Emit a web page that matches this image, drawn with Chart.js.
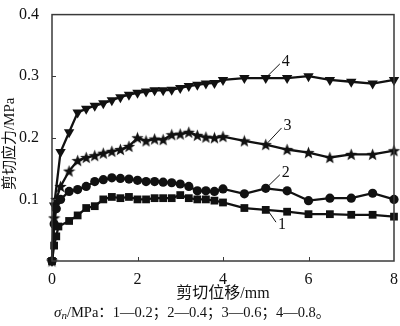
<!DOCTYPE html>
<html>
<head>
<meta charset="utf-8">
<script src="https://cdn.jsdelivr.net/npm/chart.js@4/dist/chart.umd.min.js"></script>
<style>
  html, body { margin: 0; padding: 0; background: #fff; }
  canvas { display: block; }
</style>
</head>
<body>
<canvas id="c" width="400" height="326"></canvas>
<script>
// Shear displacement (mm) and shear stress (MPa) for four normal stress levels
const xTicks = [0, 2, 4, 6, 8];
const yTicks = [0.1, 0.2, 0.3, 0.4];

const disp1   = [0, 0.05, 0.1, 0.15, 0.4, 0.6, 0.8, 1.0, 1.2, 1.4, 1.6, 1.8, 2.0, 2.2, 2.4, 2.6, 2.8, 3.0, 3.2, 3.4, 3.6, 3.8, 4.0, 4.5, 5.0, 5.5, 6.0, 6.5, 7.0, 7.5, 8.0];
const stress1 = [0, 0.025, 0.040, 0.056, 0.065, 0.074, 0.086, 0.089, 0.100, 0.104, 0.102, 0.104, 0.100, 0.100, 0.102, 0.102, 0.102, 0.107, 0.102, 0.100, 0.100, 0.098, 0.095, 0.086, 0.083, 0.080, 0.076, 0.076, 0.075, 0.075, 0.072];

const disp2   = [0, 0.05, 0.1, 0.2, 0.4, 0.6, 0.8, 1.0, 1.2, 1.4, 1.6, 1.8, 2.0, 2.2, 2.4, 2.6, 2.8, 3.0, 3.2, 3.4, 3.6, 3.8, 4.0, 4.5, 5.0, 5.5, 6.0, 6.5, 7.0, 7.5, 8.0];
const stress2 = [0, 0.060, 0.085, 0.100, 0.113, 0.116, 0.121, 0.129, 0.132, 0.135, 0.134, 0.133, 0.131, 0.129, 0.129, 0.128, 0.127, 0.125, 0.121, 0.114, 0.114, 0.113, 0.117, 0.109, 0.118, 0.114, 0.098, 0.102, 0.102, 0.110, 0.100];

const disp3   = [0, 0.05, 0.1, 0.2, 0.4, 0.6, 0.8, 1.0, 1.2, 1.4, 1.6, 1.8, 2.0, 2.2, 2.4, 2.6, 2.8, 3.0, 3.2, 3.4, 3.6, 3.8, 4.0, 4.5, 5.0, 5.5, 6.0, 6.5, 7.0, 7.5, 8.0];
const stress3 = [0, 0.070, 0.100, 0.121, 0.146, 0.163, 0.168, 0.171, 0.175, 0.178, 0.181, 0.186, 0.200, 0.195, 0.198, 0.197, 0.205, 0.206, 0.209, 0.204, 0.201, 0.200, 0.202, 0.195, 0.189, 0.181, 0.176, 0.168, 0.173, 0.173, 0.179];

const disp4   = [0, 0.05, 0.2, 0.4, 0.6, 0.8, 1.0, 1.2, 1.4, 1.6, 1.8, 2.0, 2.2, 2.4, 2.6, 2.8, 3.0, 3.2, 3.4, 3.6, 3.8, 4.0, 4.5, 5.0, 5.5, 6.0, 6.5, 7.0, 7.5, 8.0];
const stress4 = [0, 0.090, 0.177, 0.209, 0.241, 0.247, 0.252, 0.256, 0.261, 0.266, 0.270, 0.273, 0.275, 0.277, 0.277, 0.278, 0.281, 0.284, 0.286, 0.288, 0.289, 0.294, 0.297, 0.297, 0.297, 0.300, 0.294, 0.291, 0.288, 0.294];

const curveIds = ['1', '2', '3', '4'];
const normalStress = ['0.2', '0.4', '0.6', '0.8'];

// Callout leaders in data units: [from x, from y, to x, to y]
const callouts = [
  [5.02, 0.085, 5.24, 0.063],
  [5.02, 0.119, 5.33, 0.140],
  [5.02, 0.190, 5.37, 0.216],
  [5.01, 0.298, 5.33, 0.320]
];

const SERIF = "'Liberation Serif', 'Times New Roman', 'Noto Sans CJK SC', serif";
const INK = '#111';

function toPoints(xs, ys) {
  return xs.map((x, i) => ({ x: x, y: ys[i] }));
}

// Filled five-pointed star used as a marker
function makeStar(size) {
  const c = document.createElement('canvas');
  c.width = size; c.height = size;
  const g = c.getContext('2d');
  const cx = size / 2, cy = size / 2 + 0.5;
  const ro = size / 2, ri = ro * 0.42;
  g.beginPath();
  for (let i = 0; i < 10; i++) {
    const r = i % 2 === 0 ? ro : ri;
    const a = -Math.PI / 2 + i * Math.PI / 5;
    const px = cx + r * Math.cos(a), py = cy + r * Math.sin(a);
    if (i === 0) g.moveTo(px, py); else g.lineTo(px, py);
  }
  g.closePath();
  g.fillStyle = INK;
  g.fill();
  return c;
}
const starMarker = makeStar(13);

function series(xs, ys, style, radius, rotation) {
  return {
    data: toPoints(xs, ys),
    showLine: true,
    borderColor: INK,
    backgroundColor: INK,
    borderWidth: 2.3,
    pointStyle: style,
    pointRadius: radius,
    pointRotation: rotation || 0,
    pointBorderWidth: 0,
    pointBackgroundColor: INK,
    clip: false,
    tension: 0
  };
}

const frameAndText = {
  id: 'frameAndText',
  afterDraw(chart) {
    const { ctx, chartArea: a, scales } = chart;
    const xs = scales.x, ys = scales.y;
    ctx.save();

    // frame
    ctx.strokeStyle = '#3a3a3a';
    ctx.lineWidth = 1.5;
    ctx.strokeRect(a.left, a.top, a.right - a.left, a.bottom - a.top);

    // inward ticks
    ctx.lineWidth = 1;
    ctx.beginPath();
    xTicks.slice(1, -1).forEach(v => {
      const px = Math.round(xs.getPixelForValue(v)) + 0.5;
      ctx.moveTo(px, a.bottom); ctx.lineTo(px, a.bottom - 4);
    });
    yTicks.slice(0, -1).forEach(v => {
      const py = Math.round(ys.getPixelForValue(v)) + 0.5;
      ctx.moveTo(a.left, py); ctx.lineTo(a.left + 4, py);
    });
    ctx.stroke();

    // curve callouts
    ctx.strokeStyle = INK;
    ctx.fillStyle = INK;
    ctx.lineWidth = 1;
    ctx.font = '16px ' + SERIF;
    ctx.textBaseline = 'middle';
    ctx.textAlign = 'left';
    callouts.forEach((c, i) => {
      const x0 = xs.getPixelForValue(c[0]), y0 = ys.getPixelForValue(c[1]);
      const x1 = xs.getPixelForValue(c[2]), y1 = ys.getPixelForValue(c[3]);
      ctx.beginPath(); ctx.moveTo(x0, y0); ctx.lineTo(x1, y1); ctx.stroke();
      const up = y1 < y0;
      ctx.fillText(curveIds[i], x1 + 2, y1 + (up ? -2 : 3));
    });

    // axis titles
    ctx.textAlign = 'center';
    ctx.font = '16px ' + SERIF;
    ctx.fillText('剪切位移/mm', (a.left + a.right) / 2, 294);

    ctx.save();
    ctx.translate(10, (a.top + a.bottom) / 2 + 6);
    ctx.rotate(-Math.PI / 2);
    ctx.font = '15px ' + SERIF;
    ctx.fillText('剪切应力/MPa', 0, 0);
    ctx.restore();

    // normal stress note
    ctx.textAlign = 'left';
    let cx = 54;
    const cy = 313;
    ctx.font = 'italic 15px ' + SERIF;
    ctx.fillText('σ', cx, cy);
    cx += ctx.measureText('σ').width;
    ctx.font = 'italic 11px ' + SERIF;
    ctx.fillText('n', cx, cy + 3);
    cx += ctx.measureText('n').width;
    ctx.font = '14.5px ' + SERIF;
    const note = '/MPa：' + curveIds.map((id, i) => id + '—' + normalStress[i]).join('；') + '。';
    ctx.fillText(note, cx, cy);

    ctx.restore();
  }
};

new Chart(document.getElementById('c'), {
  type: 'scatter',
  data: {
    datasets: [
      series(disp1, stress1, 'rect', 5.5),
      series(disp2, stress2, 'circle', 4.6),
      series(disp3, stress3, starMarker, 6),
      series(disp4, stress4, 'triangle', 6, 180)
    ]
  },
  options: {
    responsive: false,
    animation: false,
    devicePixelRatio: 1,
    layout: { padding: { top: 5, right: 6, left: 0, bottom: 0 } },
    plugins: { legend: { display: false }, tooltip: { enabled: false } },
    scales: {
      x: {
        type: 'linear',
        min: 0, max: 8,
        afterBuildTicks(scale) { scale.ticks = xTicks.map(v => ({ value: v })); },
        afterFit(scale) { scale.height = 65; },
        grid: { display: false },
        border: { display: false },
        ticks: {
          padding: 1,
          color: INK,
          font: { family: SERIF, size: 16 },
          callback: v => String(v)
        }
      },
      y: {
        type: 'linear',
        min: 0, max: 0.4,
        afterBuildTicks(scale) { scale.ticks = [0].concat(yTicks).map(v => ({ value: v })); },
        afterFit(scale) { scale.width = 52; },
        grid: { display: false },
        border: { display: false },
        ticks: {
          padding: 5,
          color: INK,
          font: { family: SERIF, size: 16 },
          callback: v => (v === 0 ? '' : v.toFixed(1))
        }
      }
    }
  },
  plugins: [frameAndText]
});
</script>
</body>
</html>
